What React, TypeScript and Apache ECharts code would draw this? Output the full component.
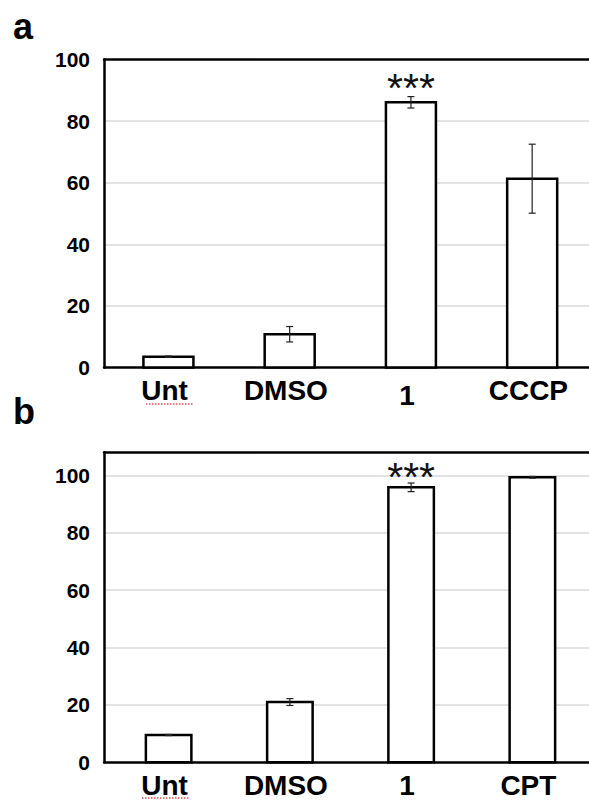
import React, { useEffect, useRef } from "react";
import * as echarts from "echarts";

// Panel a
const categoriesA = ["Unt", "DMSO", "1", "CCCP"];
const valuesA = [3.5, 10.8, 86.1, 61.3];
const errorsA = [0.2, 2.5, 1.85, 11.2];
const sigA = ["", "", "***", ""];
const yTicksA = [0, 20, 40, 60, 80, 100];

// Panel b
const categoriesB = ["Unt", "DMSO", "1", "CPT"];
const valuesB = [9.5, 21.0, 95.8, 99.3];
const errorsB = [0.2, 1.2, 1.5, 0.3];
const sigB = ["", "", "***", ""];
const yTicksB = [0, 20, 40, 60, 80, 100];

const FONT = '"Liberation Sans", Arial, Helvetica, sans-serif';
const FRAME = { show: true, onZero: false, lineStyle: { color: "#000", width: 2.5 } };

function makeRenderItem(sig: string[], barWidth: number, shift: number, sigGap: number) {
  return (params: any, api: any) => {
    const i = api.value(0);
    const v = api.value(1);
    const e = api.value(2);
    const base = api.coord([i, 0]);
    const cx = base[0] + shift;
    const y0 = base[1];
    const yTop = api.coord([i, v])[1];
    const yHi = api.coord([i, v + e])[1];
    const yLo = api.coord([i, v - e])[1];
    const cap = 3.5;
    const errStyle = { stroke: "#222", lineWidth: 1.2 };
    const children: any[] = [
      {
        type: "rect",
        shape: { x: cx - barWidth / 2, y: yTop, width: barWidth, height: y0 - yTop },
        style: { fill: "#fff", stroke: "#000", lineWidth: 2.5 },
      },
      { type: "line", shape: { x1: cx, y1: yHi, x2: cx, y2: yLo }, style: errStyle },
      { type: "line", shape: { x1: cx - cap, y1: yHi, x2: cx + cap, y2: yHi }, style: errStyle },
      { type: "line", shape: { x1: cx - cap, y1: yLo, x2: cx + cap, y2: yLo }, style: errStyle },
    ];
    const s = sig[params.dataIndex];
    if (s) {
      children.push({
        type: "text",
        x: cx,
        y: yHi - sigGap,
        style: {
          text: s,
          fill: "#111",
          font: `normal 41px ${FONT}`,
          align: "center",
          verticalAlign: "middle",
        },
      });
    }
    return { type: "group", children };
  };
}

function yAxisFor(gridIndex: number, max: number, ticks: number[]) {
  return {
    type: "value",
    gridIndex,
    min: 0,
    max,
    interval: 20,
    axisLine: FRAME,
    axisTick: { show: false },
    axisLabel: {
      fontSize: 21,
      fontWeight: "bold",
      color: "#000",
      fontFamily: FONT,
      margin: 14,
      showMaxLabel: ticks.includes(max),
      formatter: (val: number) => (ticks.includes(val) ? String(val) : ""),
    },
    splitLine: {
      show: true,
      showMinLine: false,
      showMaxLine: false,
      lineStyle: { color: "#d9d9d9", width: 1.5 },
    },
  };
}

function xAxisFor(gridIndex: number, cats: string[], lowered: string[]) {
  return {
    type: "category",
    gridIndex,
    data: cats,
    position: "bottom",
    axisLine: FRAME,
    axisTick: { show: false },
    splitLine: { show: false },
    axisLabel: {
      fontSize: 28,
      fontWeight: "bold",
      color: "#000",
      fontFamily: FONT,
      margin: 9,
      interval: 0,
      formatter: (val: string) => (lowered.includes(val) ? `{low|${val}}` : val),
      rich: {
        low: {
          fontSize: 28,
          fontWeight: "bold",
          color: "#000",
          fontFamily: FONT,
          padding: [5, 0, 0, 0],
        },
      },
    },
  };
}

function topFrameFor(gridIndex: number, cats: string[]) {
  return {
    type: "category",
    gridIndex,
    data: cats,
    position: "top",
    axisLine: FRAME,
    axisTick: { show: false },
    axisLabel: { show: false },
    splitLine: { show: false },
  };
}

export default function App() {
  const ref = useRef<HTMLDivElement>(null);
  useEffect(() => {
    if (!ref.current) return;
    const chart = echarts.init(ref.current, undefined, { renderer: "svg" });
    const squiggle = { stroke: "#e05050", lineWidth: 1.3, lineDash: [1.5, 1.5] };
    const option: any = {
      animation: false,
      backgroundColor: "#fff",
      textStyle: { fontFamily: FONT },
      grid: [
        { left: 104, top: 59.5, width: 489, height: 308, containLabel: false },
        { left: 104, top: 452.3, width: 502, height: 310, containLabel: false },
      ],
      xAxis: [
        xAxisFor(0, categoriesA, ["1"]),
        xAxisFor(1, categoriesB, []),
        topFrameFor(0, categoriesA),
        topFrameFor(1, categoriesB),
      ],
      yAxis: [yAxisFor(0, 100, yTicksA), yAxisFor(1, 108, yTicksB)],
      graphic: [
        {
          type: "text",
          x: 13,
          y: 26,
          style: { text: "a", font: `bold 36px ${FONT}`, fill: "#000", verticalAlign: "middle" },
        },
        {
          type: "text",
          x: 13,
          y: 411,
          style: { text: "b", font: `bold 36px ${FONT}`, fill: "#000", verticalAlign: "middle" },
        },
        { type: "line", shape: { x1: 146, y1: 404, x2: 193, y2: 404 }, style: squiggle },
        { type: "line", shape: { x1: 142, y1: 798, x2: 189, y2: 798 }, style: squiggle },
      ],
      series: [
        {
          type: "custom",
          xAxisIndex: 0,
          yAxisIndex: 0,
          clip: false,
          renderItem: makeRenderItem(sigA, 50, 3.8, 9),
          encode: { x: 0, y: 1 },
          data: valuesA.map((v, i) => [i, v, errorsA[i]]),
        },
        {
          type: "custom",
          xAxisIndex: 1,
          yAxisIndex: 1,
          clip: false,
          renderItem: makeRenderItem(sigB, 45.5, 4, 6),
          encode: { x: 0, y: 1 },
          data: valuesB.map((v, i) => [i, v, errorsB[i]]),
        },
      ],
    };
    chart.setOption(option);
    return () => chart.dispose();
  }, []);
  return (
    <div
      ref={ref}
      style={{ position: "absolute", left: 0, top: 0, width: 589, height: 800, background: "#fff" }}
    />
  );
}
